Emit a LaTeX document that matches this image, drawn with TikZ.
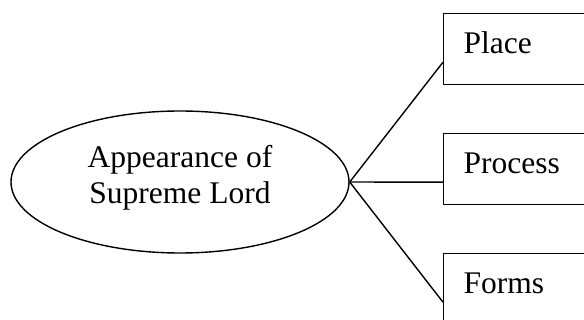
\documentclass[tikz,border=0pt]{standalone}
\usepackage{fontspec}
\setmainfont{Liberation Serif}
\usetikzlibrary{shapes.geometric}
\begin{document}
\begin{tikzpicture}[x=1pt,y=-1pt,
  line width=1.4pt,
  bigfont/.style={font=\fontsize{31.5}{36}\selectfont},
  hub/.style={draw, ellipse, minimum width=338pt, minimum height=142pt,
    inner sep=0pt},
  hubtext/.style={bigfont, align=center, inner sep=0pt},
  leaf/.style={draw, rectangle, anchor=north west, bigfont,
    inner xsep=20pt, inner ysep=0pt, text width=150pt, align=left,
    text height=40pt, text depth=31pt},
  link/.style={draw, line width=1.4pt}]
\useasboundingbox (0,0) rectangle (584,320);

% central ellipse with its two-line caption
\node[hub] (lord) at (180,182) {};
\node[hubtext] (lordtext) at (180,178) {Appearance of\\Supreme Lord};

% the three boxes on the right, running off the page edge
\node[leaf] (place)   at (443,13)  {Place};
\node[leaf] (process) at (443,133) {Process};
\node[leaf] (forms)   at (443,253) {Forms};

% connectors fanning out from the ellipse
\path[link] (lord.east) -- ([yshift=-13pt]place.west);
\path[link] (lord.east) -- ([yshift=-13pt]process.west);
\path[link] (lord.east) -- ([yshift=-13pt]forms.west);
\end{tikzpicture}
\end{document}
